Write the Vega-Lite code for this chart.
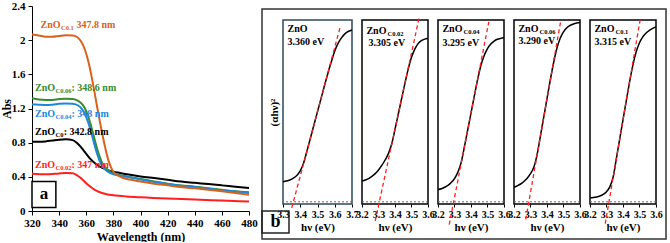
{
  "$schema": "https://vega.github.io/schema/vega-lite/v6.json",
  "background": "white",
  "padding": {"left": 0, "top": 0, "right": 0, "bottom": 0},
  "datasets": {
    "abs": [
      {"series": "ZnO C0", "wl": 320, "abs": 0.81}, {"series": "ZnO C0", "wl": 325, "abs": 0.81}, {"series": "ZnO C0", "wl": 330, "abs": 0.815}, {"series": "ZnO C0", "wl": 335, "abs": 0.825}, {"series": "ZnO C0", "wl": 340, "abs": 0.835}, {"series": "ZnO C0", "wl": 345, "abs": 0.84}, {"series": "ZnO C0", "wl": 350, "abs": 0.83}, {"series": "ZnO C0", "wl": 353, "abs": 0.8}, {"series": "ZnO C0", "wl": 356, "abs": 0.75}, {"series": "ZnO C0", "wl": 358, "abs": 0.71}, {"series": "ZnO C0", "wl": 360, "abs": 0.67}, {"series": "ZnO C0", "wl": 363, "abs": 0.61}, {"series": "ZnO C0", "wl": 366, "abs": 0.565}, {"series": "ZnO C0", "wl": 370, "abs": 0.52}, {"series": "ZnO C0", "wl": 375, "abs": 0.485}, {"series": "ZnO C0", "wl": 380, "abs": 0.46}, {"series": "ZnO C0", "wl": 385, "abs": 0.445}, {"series": "ZnO C0", "wl": 390, "abs": 0.43}, {"series": "ZnO C0", "wl": 400, "abs": 0.405}, {"series": "ZnO C0", "wl": 410, "abs": 0.385}, {"series": "ZnO C0", "wl": 420, "abs": 0.365}, {"series": "ZnO C0", "wl": 430, "abs": 0.345}, {"series": "ZnO C0", "wl": 440, "abs": 0.33}, {"series": "ZnO C0", "wl": 450, "abs": 0.315}, {"series": "ZnO C0", "wl": 460, "abs": 0.3}, {"series": "ZnO C0", "wl": 470, "abs": 0.285}, {"series": "ZnO C0", "wl": 480, "abs": 0.27},
      {"series": "ZnO C0.06", "wl": 320, "abs": 1.32}, {"series": "ZnO C0.06", "wl": 325, "abs": 1.305}, {"series": "ZnO C0.06", "wl": 330, "abs": 1.3}, {"series": "ZnO C0.06", "wl": 335, "abs": 1.3}, {"series": "ZnO C0.06", "wl": 340, "abs": 1.31}, {"series": "ZnO C0.06", "wl": 345, "abs": 1.315}, {"series": "ZnO C0.06", "wl": 350, "abs": 1.31}, {"series": "ZnO C0.06", "wl": 354, "abs": 1.29}, {"series": "ZnO C0.06", "wl": 357, "abs": 1.25}, {"series": "ZnO C0.06", "wl": 360, "abs": 1.17}, {"series": "ZnO C0.06", "wl": 362, "abs": 1.08}, {"series": "ZnO C0.06", "wl": 364, "abs": 0.97}, {"series": "ZnO C0.06", "wl": 366, "abs": 0.85}, {"series": "ZnO C0.06", "wl": 368, "abs": 0.73}, {"series": "ZnO C0.06", "wl": 370, "abs": 0.63}, {"series": "ZnO C0.06", "wl": 372, "abs": 0.555}, {"series": "ZnO C0.06", "wl": 375, "abs": 0.495}, {"series": "ZnO C0.06", "wl": 378, "abs": 0.455}, {"series": "ZnO C0.06", "wl": 380, "abs": 0.44}, {"series": "ZnO C0.06", "wl": 385, "abs": 0.42}, {"series": "ZnO C0.06", "wl": 390, "abs": 0.405}, {"series": "ZnO C0.06", "wl": 400, "abs": 0.375}, {"series": "ZnO C0.06", "wl": 410, "abs": 0.345}, {"series": "ZnO C0.06", "wl": 420, "abs": 0.32}, {"series": "ZnO C0.06", "wl": 430, "abs": 0.3}, {"series": "ZnO C0.06", "wl": 440, "abs": 0.285}, {"series": "ZnO C0.06", "wl": 450, "abs": 0.265}, {"series": "ZnO C0.06", "wl": 460, "abs": 0.248}, {"series": "ZnO C0.06", "wl": 470, "abs": 0.232}, {"series": "ZnO C0.06", "wl": 480, "abs": 0.22},
      {"series": "ZnO C0.04", "wl": 320, "abs": 1.25}, {"series": "ZnO C0.04", "wl": 325, "abs": 1.245}, {"series": "ZnO C0.04", "wl": 330, "abs": 1.24}, {"series": "ZnO C0.04", "wl": 335, "abs": 1.245}, {"series": "ZnO C0.04", "wl": 340, "abs": 1.255}, {"series": "ZnO C0.04", "wl": 345, "abs": 1.26}, {"series": "ZnO C0.04", "wl": 350, "abs": 1.255}, {"series": "ZnO C0.04", "wl": 354, "abs": 1.235}, {"series": "ZnO C0.04", "wl": 357, "abs": 1.19}, {"series": "ZnO C0.04", "wl": 360, "abs": 1.1}, {"series": "ZnO C0.04", "wl": 362, "abs": 1.01}, {"series": "ZnO C0.04", "wl": 364, "abs": 0.9}, {"series": "ZnO C0.04", "wl": 366, "abs": 0.78}, {"series": "ZnO C0.04", "wl": 368, "abs": 0.67}, {"series": "ZnO C0.04", "wl": 370, "abs": 0.58}, {"series": "ZnO C0.04", "wl": 372, "abs": 0.52}, {"series": "ZnO C0.04", "wl": 375, "abs": 0.47}, {"series": "ZnO C0.04", "wl": 378, "abs": 0.44}, {"series": "ZnO C0.04", "wl": 380, "abs": 0.43}, {"series": "ZnO C0.04", "wl": 385, "abs": 0.415}, {"series": "ZnO C0.04", "wl": 390, "abs": 0.4}, {"series": "ZnO C0.04", "wl": 400, "abs": 0.37}, {"series": "ZnO C0.04", "wl": 410, "abs": 0.34}, {"series": "ZnO C0.04", "wl": 420, "abs": 0.315}, {"series": "ZnO C0.04", "wl": 430, "abs": 0.295}, {"series": "ZnO C0.04", "wl": 440, "abs": 0.28}, {"series": "ZnO C0.04", "wl": 450, "abs": 0.26}, {"series": "ZnO C0.04", "wl": 460, "abs": 0.243}, {"series": "ZnO C0.04", "wl": 470, "abs": 0.227}, {"series": "ZnO C0.04", "wl": 480, "abs": 0.212},
      {"series": "ZnO C0.1", "wl": 320, "abs": 2.065}, {"series": "ZnO C0.1", "wl": 325, "abs": 2.055}, {"series": "ZnO C0.1", "wl": 330, "abs": 2.04}, {"series": "ZnO C0.1", "wl": 335, "abs": 2.04}, {"series": "ZnO C0.1", "wl": 340, "abs": 2.05}, {"series": "ZnO C0.1", "wl": 345, "abs": 2.058}, {"series": "ZnO C0.1", "wl": 350, "abs": 2.055}, {"series": "ZnO C0.1", "wl": 353, "abs": 2.04}, {"series": "ZnO C0.1", "wl": 356, "abs": 1.99}, {"series": "ZnO C0.1", "wl": 358, "abs": 1.93}, {"series": "ZnO C0.1", "wl": 360, "abs": 1.84}, {"series": "ZnO C0.1", "wl": 362, "abs": 1.72}, {"series": "ZnO C0.1", "wl": 364, "abs": 1.57}, {"series": "ZnO C0.1", "wl": 366, "abs": 1.4}, {"series": "ZnO C0.1", "wl": 368, "abs": 1.22}, {"series": "ZnO C0.1", "wl": 370, "abs": 1.05}, {"series": "ZnO C0.1", "wl": 372, "abs": 0.89}, {"series": "ZnO C0.1", "wl": 374, "abs": 0.74}, {"series": "ZnO C0.1", "wl": 376, "abs": 0.61}, {"series": "ZnO C0.1", "wl": 378, "abs": 0.52}, {"series": "ZnO C0.1", "wl": 380, "abs": 0.46}, {"series": "ZnO C0.1", "wl": 383, "abs": 0.42}, {"series": "ZnO C0.1", "wl": 386, "abs": 0.395}, {"series": "ZnO C0.1", "wl": 390, "abs": 0.375}, {"series": "ZnO C0.1", "wl": 395, "abs": 0.36}, {"series": "ZnO C0.1", "wl": 400, "abs": 0.345}, {"series": "ZnO C0.1", "wl": 410, "abs": 0.32}, {"series": "ZnO C0.1", "wl": 420, "abs": 0.3}, {"series": "ZnO C0.1", "wl": 430, "abs": 0.28}, {"series": "ZnO C0.1", "wl": 440, "abs": 0.265}, {"series": "ZnO C0.1", "wl": 450, "abs": 0.25}, {"series": "ZnO C0.1", "wl": 460, "abs": 0.232}, {"series": "ZnO C0.1", "wl": 470, "abs": 0.212}, {"series": "ZnO C0.1", "wl": 480, "abs": 0.19},
      {"series": "ZnO C0.02", "wl": 320, "abs": 0.437}, {"series": "ZnO C0.02", "wl": 330, "abs": 0.43}, {"series": "ZnO C0.02", "wl": 340, "abs": 0.44}, {"series": "ZnO C0.02", "wl": 345, "abs": 0.445}, {"series": "ZnO C0.02", "wl": 350, "abs": 0.443}, {"series": "ZnO C0.02", "wl": 353, "abs": 0.42}, {"series": "ZnO C0.02", "wl": 356, "abs": 0.385}, {"series": "ZnO C0.02", "wl": 358, "abs": 0.355}, {"series": "ZnO C0.02", "wl": 360, "abs": 0.325}, {"series": "ZnO C0.02", "wl": 363, "abs": 0.285}, {"series": "ZnO C0.02", "wl": 366, "abs": 0.25}, {"series": "ZnO C0.02", "wl": 370, "abs": 0.22}, {"series": "ZnO C0.02", "wl": 375, "abs": 0.197}, {"series": "ZnO C0.02", "wl": 380, "abs": 0.185}, {"series": "ZnO C0.02", "wl": 390, "abs": 0.17}, {"series": "ZnO C0.02", "wl": 400, "abs": 0.16}, {"series": "ZnO C0.02", "wl": 420, "abs": 0.145}, {"series": "ZnO C0.02", "wl": 440, "abs": 0.135}, {"series": "ZnO C0.02", "wl": 460, "abs": 0.122}, {"series": "ZnO C0.02", "wl": 480, "abs": 0.11}
    ],
    "absLabels": [
      {"series": "ZnO C0.1", "name": "ZnO", "sub": "C0.1", "rest": "347.8 nm"},
      {"series": "ZnO C0.06", "name": "ZnO", "sub": "C0.06", "rest": ": 348.6 nm"},
      {"series": "ZnO C0.04", "name": "ZnO", "sub": "C0.04", "rest": ": 348 nm"},
      {"series": "ZnO C0", "name": "ZnO", "sub": "C0", "rest": ": 342.8 nm"},
      {"series": "ZnO C0.02", "name": "ZnO", "sub": "C0.02", "rest": ": 347 nm"}
    ],
    "tauc": [
      {"sample": "ZnO", "hv": 3.30, "y": 0.110}, {"sample": "ZnO", "hv": 3.32, "y": 0.114}, {"sample": "ZnO", "hv": 3.34, "y": 0.120}, {"sample": "ZnO", "hv": 3.36, "y": 0.130}, {"sample": "ZnO", "hv": 3.38, "y": 0.145}, {"sample": "ZnO", "hv": 3.40, "y": 0.170}, {"sample": "ZnO", "hv": 3.42, "y": 0.215}, {"sample": "ZnO", "hv": 3.44, "y": 0.283}, {"sample": "ZnO", "hv": 3.46, "y": 0.354}, {"sample": "ZnO", "hv": 3.48, "y": 0.425}, {"sample": "ZnO", "hv": 3.50, "y": 0.496}, {"sample": "ZnO", "hv": 3.52, "y": 0.566}, {"sample": "ZnO", "hv": 3.54, "y": 0.637}, {"sample": "ZnO", "hv": 3.56, "y": 0.706}, {"sample": "ZnO", "hv": 3.58, "y": 0.770}, {"sample": "ZnO", "hv": 3.60, "y": 0.830}, {"sample": "ZnO", "hv": 3.62, "y": 0.873}, {"sample": "ZnO", "hv": 3.64, "y": 0.903}, {"sample": "ZnO", "hv": 3.66, "y": 0.925}, {"sample": "ZnO", "hv": 3.68, "y": 0.938}, {"sample": "ZnO", "hv": 3.70, "y": 0.945},
      {"sample": "ZnO C0.02", "hv": 3.20, "y": 0.115}, {"sample": "ZnO C0.02", "hv": 3.22, "y": 0.120}, {"sample": "ZnO C0.02", "hv": 3.24, "y": 0.128}, {"sample": "ZnO C0.02", "hv": 3.26, "y": 0.140}, {"sample": "ZnO C0.02", "hv": 3.28, "y": 0.155}, {"sample": "ZnO C0.02", "hv": 3.30, "y": 0.175}, {"sample": "ZnO C0.02", "hv": 3.32, "y": 0.200}, {"sample": "ZnO C0.02", "hv": 3.34, "y": 0.230}, {"sample": "ZnO C0.02", "hv": 3.36, "y": 0.265}, {"sample": "ZnO C0.02", "hv": 3.38, "y": 0.318}, {"sample": "ZnO C0.02", "hv": 3.40, "y": 0.399}, {"sample": "ZnO C0.02", "hv": 3.42, "y": 0.483}, {"sample": "ZnO C0.02", "hv": 3.44, "y": 0.567}, {"sample": "ZnO C0.02", "hv": 3.46, "y": 0.651}, {"sample": "ZnO C0.02", "hv": 3.48, "y": 0.730}, {"sample": "ZnO C0.02", "hv": 3.50, "y": 0.795}, {"sample": "ZnO C0.02", "hv": 3.52, "y": 0.840}, {"sample": "ZnO C0.02", "hv": 3.54, "y": 0.870}, {"sample": "ZnO C0.02", "hv": 3.56, "y": 0.886}, {"sample": "ZnO C0.02", "hv": 3.58, "y": 0.895}, {"sample": "ZnO C0.02", "hv": 3.60, "y": 0.900},
      {"sample": "ZnO C0.04", "hv": 3.20, "y": 0.068}, {"sample": "ZnO C0.04", "hv": 3.22, "y": 0.072}, {"sample": "ZnO C0.04", "hv": 3.24, "y": 0.080}, {"sample": "ZnO C0.04", "hv": 3.26, "y": 0.090}, {"sample": "ZnO C0.04", "hv": 3.28, "y": 0.106}, {"sample": "ZnO C0.04", "hv": 3.30, "y": 0.128}, {"sample": "ZnO C0.04", "hv": 3.32, "y": 0.162}, {"sample": "ZnO C0.04", "hv": 3.34, "y": 0.215}, {"sample": "ZnO C0.04", "hv": 3.36, "y": 0.302}, {"sample": "ZnO C0.04", "hv": 3.38, "y": 0.395}, {"sample": "ZnO C0.04", "hv": 3.40, "y": 0.488}, {"sample": "ZnO C0.04", "hv": 3.42, "y": 0.581}, {"sample": "ZnO C0.04", "hv": 3.44, "y": 0.672}, {"sample": "ZnO C0.04", "hv": 3.46, "y": 0.750}, {"sample": "ZnO C0.04", "hv": 3.48, "y": 0.805}, {"sample": "ZnO C0.04", "hv": 3.50, "y": 0.843}, {"sample": "ZnO C0.04", "hv": 3.52, "y": 0.868}, {"sample": "ZnO C0.04", "hv": 3.54, "y": 0.884}, {"sample": "ZnO C0.04", "hv": 3.56, "y": 0.894}, {"sample": "ZnO C0.04", "hv": 3.58, "y": 0.899}, {"sample": "ZnO C0.04", "hv": 3.60, "y": 0.902},
      {"sample": "ZnO C0.06", "hv": 3.20, "y": 0.080}, {"sample": "ZnO C0.06", "hv": 3.22, "y": 0.088}, {"sample": "ZnO C0.06", "hv": 3.24, "y": 0.098}, {"sample": "ZnO C0.06", "hv": 3.26, "y": 0.112}, {"sample": "ZnO C0.06", "hv": 3.28, "y": 0.130}, {"sample": "ZnO C0.06", "hv": 3.30, "y": 0.155}, {"sample": "ZnO C0.06", "hv": 3.32, "y": 0.190}, {"sample": "ZnO C0.06", "hv": 3.34, "y": 0.260}, {"sample": "ZnO C0.06", "hv": 3.36, "y": 0.361}, {"sample": "ZnO C0.06", "hv": 3.38, "y": 0.464}, {"sample": "ZnO C0.06", "hv": 3.40, "y": 0.567}, {"sample": "ZnO C0.06", "hv": 3.42, "y": 0.670}, {"sample": "ZnO C0.06", "hv": 3.44, "y": 0.765}, {"sample": "ZnO C0.06", "hv": 3.46, "y": 0.845}, {"sample": "ZnO C0.06", "hv": 3.48, "y": 0.900}, {"sample": "ZnO C0.06", "hv": 3.50, "y": 0.935}, {"sample": "ZnO C0.06", "hv": 3.52, "y": 0.957}, {"sample": "ZnO C0.06", "hv": 3.54, "y": 0.970}, {"sample": "ZnO C0.06", "hv": 3.56, "y": 0.978}, {"sample": "ZnO C0.06", "hv": 3.58, "y": 0.983}, {"sample": "ZnO C0.06", "hv": 3.60, "y": 0.986},
      {"sample": "ZnO C0.1", "hv": 3.20, "y": 0.022}, {"sample": "ZnO C0.1", "hv": 3.22, "y": 0.024}, {"sample": "ZnO C0.1", "hv": 3.24, "y": 0.027}, {"sample": "ZnO C0.1", "hv": 3.26, "y": 0.032}, {"sample": "ZnO C0.1", "hv": 3.28, "y": 0.041}, {"sample": "ZnO C0.1", "hv": 3.30, "y": 0.056}, {"sample": "ZnO C0.1", "hv": 3.32, "y": 0.082}, {"sample": "ZnO C0.1", "hv": 3.34, "y": 0.135}, {"sample": "ZnO C0.1", "hv": 3.36, "y": 0.239}, {"sample": "ZnO C0.1", "hv": 3.38, "y": 0.345}, {"sample": "ZnO C0.1", "hv": 3.40, "y": 0.451}, {"sample": "ZnO C0.1", "hv": 3.42, "y": 0.557}, {"sample": "ZnO C0.1", "hv": 3.44, "y": 0.660}, {"sample": "ZnO C0.1", "hv": 3.46, "y": 0.752}, {"sample": "ZnO C0.1", "hv": 3.48, "y": 0.825}, {"sample": "ZnO C0.1", "hv": 3.50, "y": 0.875}, {"sample": "ZnO C0.1", "hv": 3.52, "y": 0.907}, {"sample": "ZnO C0.1", "hv": 3.54, "y": 0.928}, {"sample": "ZnO C0.1", "hv": 3.56, "y": 0.943}, {"sample": "ZnO C0.1", "hv": 3.58, "y": 0.954}, {"sample": "ZnO C0.1", "hv": 3.60, "y": 0.962}
    ],
    "tangent": [
      {"sample": "ZnO", "hv": 3.3507, "y": -0.033}, {"sample": "ZnO", "hv": 3.360, "y": 0}, {"sample": "ZnO", "hv": 3.6303, "y": 0.957},
      {"sample": "ZnO C0.02", "hv": 3.280, "y": -0.105}, {"sample": "ZnO C0.02", "hv": 3.305, "y": 0}, {"sample": "ZnO C0.02", "hv": 3.5455, "y": 1.01},
      {"sample": "ZnO C0.04", "hv": 3.2681, "y": -0.125}, {"sample": "ZnO C0.04", "hv": 3.295, "y": 0}, {"sample": "ZnO C0.04", "hv": 3.5079, "y": 0.99},
      {"sample": "ZnO C0.06", "hv": 3.2712, "y": -0.097}, {"sample": "ZnO C0.06", "hv": 3.290, "y": 0}, {"sample": "ZnO C0.06", "hv": 3.4842, "y": 1.0},
      {"sample": "ZnO C0.1", "hv": 3.2924, "y": -0.12}, {"sample": "ZnO C0.1", "hv": 3.315, "y": 0}, {"sample": "ZnO C0.1", "hv": 3.5037, "y": 1.0}
    ]
  },
  "spacing": 2,
  "hconcat": [
    {
      "width": 217,
      "height": 205,
      "layer": [
        {
          "data": {"name": "abs"},
          "mark": {"type": "line", "interpolate": "monotone", "strokeWidth": 2},
          "encoding": {
            "x": {"field": "wl", "type": "quantitative", "scale": {"domain": [320, 480], "nice": false, "zero": false},
                  "axis": {"values": [320, 340, 360, 380, 400, 420, 440, 460, 480], "tickCount": 20, "title": "Wavelength (nm)", "labelFlush": false, "labelOverlap": false, "tickSize": 4, "labelPadding": 2, "titlePadding": 3, "titleFontSize": 12}},
            "y": {"field": "abs", "type": "quantitative", "scale": {"domain": [0, 2.4], "nice": false},
                  "axis": {"values": [0, 0.4, 0.8, 1.2, 1.6, 2, 2.4], "tickCount": 20, "format": "~g", "labelOverlap": false, "title": "Abs", "tickSize": 4, "labelPadding": 3, "titlePadding": -2, "titleFontSize": 12}},
            "color": {"field": "series", "type": "nominal", "legend": null,
                      "scale": {"domain": ["ZnO C0", "ZnO C0.06", "ZnO C0.04", "ZnO C0.1", "ZnO C0.02"], "range": ["#000000", "#3a8a2e", "#1e88d8", "#d8621c", "#ff1f1f"]}}
          }
        },
        {"data": {"values": [{"panel": "a"}]},
         "mark": {"type": "rect", "fill": "white", "stroke": "#000", "strokeWidth": 1.5},
         "encoding": {"x": {"datum": 320}, "x2": {"datum": 337.6}, "y": {"datum": 0.04}, "y2": {"datum": 0.345}}},
        {"data": {"values": [{"panel": "a"}]},
         "mark": {"type": "text", "fontSize": 17, "align": "center", "baseline": "middle", "font": "Liberation Serif", "fontWeight": "bold", "color": "#000"},
         "encoding": {"text": {"field": "panel"}, "x": {"datum": 328.8}, "y": {"datum": 0.2}}},
        {"data": {"name": "absLabels"}, "transform": [{"filter": "datum.series === 'ZnO C0.1'"}],
         "mark": {"type": "text", "align": "left", "baseline": "middle", "fontSize": 10, "font": "Liberation Serif", "fontWeight": "bold", "color": "#d8621c"},
         "encoding": {"text": {"field": "name"}, "x": {"datum": 326.3}, "y": {"datum": 2.175}}},
        {"data": {"name": "absLabels"}, "transform": [{"filter": "datum.series === 'ZnO C0.1'"}],
         "mark": {"type": "text", "align": "left", "baseline": "middle", "fontSize": 6.5, "dx": 20.5, "dy": 3, "font": "Liberation Serif", "fontWeight": "bold", "color": "#d8621c"},
         "encoding": {"text": {"field": "sub"}, "x": {"datum": 326.3}, "y": {"datum": 2.175}}},
        {"data": {"name": "absLabels"}, "transform": [{"filter": "datum.series === 'ZnO C0.1'"}],
         "mark": {"type": "text", "align": "left", "baseline": "middle", "fontSize": 10, "dx": 36, "font": "Liberation Serif", "fontWeight": "bold", "color": "#d8621c"},
         "encoding": {"text": {"field": "rest"}, "x": {"datum": 326.3}, "y": {"datum": 2.175}}},
        {"data": {"name": "absLabels"}, "transform": [{"filter": "datum.series === 'ZnO C0.06'"}],
         "mark": {"type": "text", "align": "left", "baseline": "middle", "fontSize": 10, "font": "Liberation Serif", "fontWeight": "bold", "color": "#3a8a2e"},
         "encoding": {"text": {"field": "name"}, "x": {"datum": 322.2}, "y": {"datum": 1.437}}},
        {"data": {"name": "absLabels"}, "transform": [{"filter": "datum.series === 'ZnO C0.06'"}],
         "mark": {"type": "text", "align": "left", "baseline": "middle", "fontSize": 6.5, "dx": 20.5, "dy": 3, "font": "Liberation Serif", "fontWeight": "bold", "color": "#3a8a2e"},
         "encoding": {"text": {"field": "sub"}, "x": {"datum": 322.2}, "y": {"datum": 1.437}}},
        {"data": {"name": "absLabels"}, "transform": [{"filter": "datum.series === 'ZnO C0.06'"}],
         "mark": {"type": "text", "align": "left", "baseline": "middle", "fontSize": 10, "dx": 36.5, "font": "Liberation Serif", "fontWeight": "bold", "color": "#3a8a2e"},
         "encoding": {"text": {"field": "rest"}, "x": {"datum": 322.2}, "y": {"datum": 1.437}}},
        {"data": {"name": "absLabels"}, "transform": [{"filter": "datum.series === 'ZnO C0.04'"}],
         "mark": {"type": "text", "align": "left", "baseline": "middle", "fontSize": 10, "font": "Liberation Serif", "fontWeight": "bold", "color": "#1e88d8"},
         "encoding": {"text": {"field": "name"}, "x": {"datum": 322.2}, "y": {"datum": 1.137}}},
        {"data": {"name": "absLabels"}, "transform": [{"filter": "datum.series === 'ZnO C0.04'"}],
         "mark": {"type": "text", "align": "left", "baseline": "middle", "fontSize": 6.5, "dx": 20.5, "dy": 3, "font": "Liberation Serif", "fontWeight": "bold", "color": "#1e88d8"},
         "encoding": {"text": {"field": "sub"}, "x": {"datum": 322.2}, "y": {"datum": 1.137}}},
        {"data": {"name": "absLabels"}, "transform": [{"filter": "datum.series === 'ZnO C0.04'"}],
         "mark": {"type": "text", "align": "left", "baseline": "middle", "fontSize": 10, "dx": 36.5, "font": "Liberation Serif", "fontWeight": "bold", "color": "#1e88d8"},
         "encoding": {"text": {"field": "rest"}, "x": {"datum": 322.2}, "y": {"datum": 1.137}}},
        {"data": {"name": "absLabels"}, "transform": [{"filter": "datum.series === 'ZnO C0'"}],
         "mark": {"type": "text", "align": "left", "baseline": "middle", "fontSize": 10, "font": "Liberation Serif", "fontWeight": "bold", "color": "#000000"},
         "encoding": {"text": {"field": "name"}, "x": {"datum": 322.2}, "y": {"datum": 0.924}}},
        {"data": {"name": "absLabels"}, "transform": [{"filter": "datum.series === 'ZnO C0'"}],
         "mark": {"type": "text", "align": "left", "baseline": "middle", "fontSize": 6.5, "dx": 20.5, "dy": 3, "font": "Liberation Serif", "fontWeight": "bold", "color": "#000000"},
         "encoding": {"text": {"field": "sub"}, "x": {"datum": 322.2}, "y": {"datum": 0.924}}},
        {"data": {"name": "absLabels"}, "transform": [{"filter": "datum.series === 'ZnO C0'"}],
         "mark": {"type": "text", "align": "left", "baseline": "middle", "fontSize": 10, "dx": 28.8, "font": "Liberation Serif", "fontWeight": "bold", "color": "#000000"},
         "encoding": {"text": {"field": "rest"}, "x": {"datum": 322.2}, "y": {"datum": 0.924}}},
        {"data": {"name": "absLabels"}, "transform": [{"filter": "datum.series === 'ZnO C0.02'"}],
         "mark": {"type": "text", "align": "left", "baseline": "middle", "fontSize": 10, "font": "Liberation Serif", "fontWeight": "bold", "color": "#ff1f1f"},
         "encoding": {"text": {"field": "name"}, "x": {"datum": 322.2}, "y": {"datum": 0.542}}},
        {"data": {"name": "absLabels"}, "transform": [{"filter": "datum.series === 'ZnO C0.02'"}],
         "mark": {"type": "text", "align": "left", "baseline": "middle", "fontSize": 6.5, "dx": 20.5, "dy": 3, "font": "Liberation Serif", "fontWeight": "bold", "color": "#ff1f1f"},
         "encoding": {"text": {"field": "sub"}, "x": {"datum": 322.2}, "y": {"datum": 0.542}}},
        {"data": {"name": "absLabels"}, "transform": [{"filter": "datum.series === 'ZnO C0.02'"}],
         "mark": {"type": "text", "align": "left", "baseline": "middle", "fontSize": 10, "dx": 36.5, "font": "Liberation Serif", "fontWeight": "bold", "color": "#ff1f1f"},
         "encoding": {"text": {"field": "rest"}, "x": {"datum": 322.2}, "y": {"datum": 0.542}}}
      ]
    },
    {
      "spacing": 0,
      "vconcat": [
        {"width": 1, "height": 1, "mark": {"type": "rule", "strokeOpacity": 0}, "encoding": {}},
        {
          "spacing": 10,
          "bounds": "flush",
          "hconcat": [
            {
              "width": 69, "height": 184,
              "view": {"stroke": "#2e4a5c", "strokeWidth": 1.5},
              "layer": [
                {"data": {"name": "tauc"}, "transform": [{"filter": "datum.sample === 'ZnO'"}],
                 "mark": {"type": "line", "color": "#000", "strokeWidth": 1.5, "interpolate": "monotone"},
                 "encoding": {
                   "x": {"field": "hv", "type": "quantitative", "scale": {"domain": [3.3, 3.7], "nice": false, "zero": false},
                         "axis": {"values": [3.3, 3.4, 3.5, 3.6, 3.7], "tickCount": 20, "format": ".1f", "title": "hν (eV)", "labelFontSize": 10, "titleFontSize": 11, "domain": false, "tickSize": 3, "labelPadding": 2, "labelFlush": false, "labelOverlap": false, "titlePadding": 2}},
                   "y": {"field": "y", "type": "quantitative", "scale": {"domain": [-0.012, 1], "nice": false, "zero": false},
                         "axis": {"title": "(αhν)²", "labels": false, "ticks": false, "domain": false, "titleFontSize": 11, "titlePadding": 4}}
                 }},
                {"data": {"name": "tangent"}, "transform": [{"filter": "datum.sample === 'ZnO'"}],
                 "mark": {"type": "line", "color": "#ff1f1f", "strokeDash": [4, 3], "strokeWidth": 1.3},
                 "encoding": {"x": {"field": "hv", "type": "quantitative"}, "y": {"field": "y", "type": "quantitative"}}},
                {"data": {"values": [{"panel": "b"}]},
                 "mark": {"type": "rule", "color": "#666", "strokeDash": [2, 2], "strokeWidth": 1},
                 "encoding": {"y": {"datum": 0}}},
                {"data": {"values": [{"panel": "b"}]},
                 "mark": {"type": "rect", "fill": null, "stroke": "#333", "strokeWidth": 1.5},
                 "encoding": {"x": {"datum": 3.1783}, "x2": {"datum": 5.5203}, "y": {"datum": -0.2045}, "y2": {"datum": 1.0605}}},
                {"data": {"values": [{"panel": "b"}]},
                 "mark": {"type": "rect", "fill": null, "stroke": "#222", "strokeWidth": 1.5},
                 "encoding": {"x": {"datum": 3.1783}, "x2": {"datum": 3.3348}, "y": {"datum": -0.1715}, "y2": {"datum": -0.0505}}},
                {"data": {"values": [{"panel": "b"}]},
                 "mark": {"type": "text", "fontSize": 18, "align": "center", "baseline": "middle", "font": "Liberation Serif", "fontWeight": "bold", "color": "#000"},
                 "encoding": {"text": {"field": "panel"}, "x": {"datum": 3.2565}, "y": {"datum": -0.111}}},
                {"data": {"values": [{"name": "ZnO", "gap": "3.360 eV"}]},
                 "mark": {"type": "text", "align": "left", "baseline": "middle", "fontSize": 10, "font": "Liberation Serif", "fontWeight": "bold", "color": "#000"},
                 "encoding": {"text": {"field": "name"}, "x": {"datum": 3.326}, "y": {"datum": 0.95}}},
                {"data": {"values": [{"name": "ZnO", "gap": "3.360 eV"}]},
                 "mark": {"type": "text", "align": "left", "baseline": "middle", "fontSize": 10, "font": "Liberation Serif", "fontWeight": "bold", "color": "#000"},
                 "encoding": {"text": {"field": "gap"}, "x": {"datum": 3.326}, "y": {"datum": 0.88}}}
              ]
            },
            {
              "width": 66, "height": 184,
              "view": {"stroke": "#000", "strokeWidth": 1.5},
              "layer": [
                {"data": {"name": "tauc"}, "transform": [{"filter": "datum.sample === 'ZnO C0.02'"}],
                 "mark": {"type": "line", "color": "#000", "strokeWidth": 1.5, "interpolate": "monotone"},
                 "encoding": {
                   "x": {"field": "hv", "type": "quantitative", "scale": {"domain": [3.2, 3.6], "nice": false, "zero": false},
                         "axis": {"values": [3.2, 3.3, 3.4, 3.5, 3.6], "tickCount": 20, "format": ".1f", "title": "hν (eV)", "labelFontSize": 10, "titleFontSize": 11, "domain": false, "tickSize": 3, "labelPadding": 2, "labelFlush": false, "labelOverlap": false, "titlePadding": 2}},
                   "y": {"field": "y", "type": "quantitative", "scale": {"domain": [-0.012, 1], "nice": false, "zero": false}, "axis": null}
                 }},
                {"data": {"name": "tangent"}, "transform": [{"filter": "datum.sample === 'ZnO C0.02'"}],
                 "mark": {"type": "line", "color": "#ff1f1f", "strokeDash": [4, 3], "strokeWidth": 1.3},
                 "encoding": {"x": {"field": "hv", "type": "quantitative"}, "y": {"field": "y", "type": "quantitative", "axis": null}}},
                {"data": {"values": [{"panel": "b"}]},
                 "mark": {"type": "rule", "color": "#666", "strokeDash": [2, 2], "strokeWidth": 1},
                 "encoding": {"y": {"datum": 0, "axis": null}}},
                {"data": {"values": [{"name": "ZnO", "sub": "C0.02", "gap": "3.305 eV"}]},
                 "mark": {"type": "text", "align": "left", "baseline": "middle", "fontSize": 10, "font": "Liberation Serif", "fontWeight": "bold", "color": "#000"},
                 "encoding": {"text": {"field": "name"}, "x": {"datum": 3.227}, "y": {"datum": 0.94, "axis": null}}},
                {"data": {"values": [{"name": "ZnO", "sub": "C0.02", "gap": "3.305 eV"}]},
                 "mark": {"type": "text", "align": "left", "baseline": "middle", "fontSize": 6.5, "dx": 21, "dy": 3, "font": "Liberation Serif", "fontWeight": "bold", "color": "#000"},
                 "encoding": {"text": {"field": "sub"}, "x": {"datum": 3.227}, "y": {"datum": 0.94, "axis": null}}},
                {"data": {"values": [{"name": "ZnO", "sub": "C0.02", "gap": "3.305 eV"}]},
                 "mark": {"type": "text", "align": "left", "baseline": "middle", "fontSize": 10, "font": "Liberation Serif", "fontWeight": "bold", "color": "#000"},
                 "encoding": {"text": {"field": "gap"}, "x": {"datum": 3.24}, "y": {"datum": 0.875, "axis": null}}}
              ]
            },
            {
              "width": 66, "height": 184,
              "view": {"stroke": "#000", "strokeWidth": 1.5},
              "layer": [
                {"data": {"name": "tauc"}, "transform": [{"filter": "datum.sample === 'ZnO C0.04'"}],
                 "mark": {"type": "line", "color": "#000", "strokeWidth": 1.5, "interpolate": "monotone"},
                 "encoding": {
                   "x": {"field": "hv", "type": "quantitative", "scale": {"domain": [3.2, 3.6], "nice": false, "zero": false},
                         "axis": {"values": [3.2, 3.3, 3.4, 3.5, 3.6], "tickCount": 20, "format": ".1f", "title": "hν (eV)", "labelFontSize": 10, "titleFontSize": 11, "domain": false, "tickSize": 3, "labelPadding": 2, "labelFlush": false, "labelOverlap": false, "titlePadding": 2}},
                   "y": {"field": "y", "type": "quantitative", "scale": {"domain": [-0.012, 1], "nice": false, "zero": false}, "axis": null}
                 }},
                {"data": {"name": "tangent"}, "transform": [{"filter": "datum.sample === 'ZnO C0.04'"}],
                 "mark": {"type": "line", "color": "#ff1f1f", "strokeDash": [4, 3], "strokeWidth": 1.3},
                 "encoding": {"x": {"field": "hv", "type": "quantitative"}, "y": {"field": "y", "type": "quantitative", "axis": null}}},
                {"data": {"values": [{"panel": "b"}]},
                 "mark": {"type": "rule", "color": "#666", "strokeDash": [2, 2], "strokeWidth": 1},
                 "encoding": {"y": {"datum": 0, "axis": null}}},
                {"data": {"values": [{"name": "ZnO", "sub": "C0.04", "gap": "3.295 eV"}]},
                 "mark": {"type": "text", "align": "left", "baseline": "middle", "fontSize": 10, "font": "Liberation Serif", "fontWeight": "bold", "color": "#000"},
                 "encoding": {"text": {"field": "name"}, "x": {"datum": 3.227}, "y": {"datum": 0.948, "axis": null}}},
                {"data": {"values": [{"name": "ZnO", "sub": "C0.04", "gap": "3.295 eV"}]},
                 "mark": {"type": "text", "align": "left", "baseline": "middle", "fontSize": 6.5, "dx": 21, "dy": 3, "font": "Liberation Serif", "fontWeight": "bold", "color": "#000"},
                 "encoding": {"text": {"field": "sub"}, "x": {"datum": 3.227}, "y": {"datum": 0.948, "axis": null}}},
                {"data": {"values": [{"name": "ZnO", "sub": "C0.04", "gap": "3.295 eV"}]},
                 "mark": {"type": "text", "align": "left", "baseline": "middle", "fontSize": 10, "font": "Liberation Serif", "fontWeight": "bold", "color": "#000"},
                 "encoding": {"text": {"field": "gap"}, "x": {"datum": 3.227}, "y": {"datum": 0.876, "axis": null}}}
              ]
            },
            {
              "width": 66, "height": 184,
              "view": {"stroke": "#000", "strokeWidth": 1.5},
              "layer": [
                {"data": {"name": "tauc"}, "transform": [{"filter": "datum.sample === 'ZnO C0.06'"}],
                 "mark": {"type": "line", "color": "#000", "strokeWidth": 1.5, "interpolate": "monotone"},
                 "encoding": {
                   "x": {"field": "hv", "type": "quantitative", "scale": {"domain": [3.2, 3.6], "nice": false, "zero": false},
                         "axis": {"values": [3.2, 3.3, 3.4, 3.5, 3.6], "tickCount": 20, "format": ".1f", "title": "hν (eV)", "labelFontSize": 10, "titleFontSize": 11, "domain": false, "tickSize": 3, "labelPadding": 2, "labelFlush": false, "labelOverlap": false, "titlePadding": 2}},
                   "y": {"field": "y", "type": "quantitative", "scale": {"domain": [-0.012, 1], "nice": false, "zero": false}, "axis": null}
                 }},
                {"data": {"name": "tangent"}, "transform": [{"filter": "datum.sample === 'ZnO C0.06'"}],
                 "mark": {"type": "line", "color": "#ff1f1f", "strokeDash": [4, 3], "strokeWidth": 1.3},
                 "encoding": {"x": {"field": "hv", "type": "quantitative"}, "y": {"field": "y", "type": "quantitative", "axis": null}}},
                {"data": {"values": [{"panel": "b"}]},
                 "mark": {"type": "rule", "color": "#666", "strokeDash": [2, 2], "strokeWidth": 1},
                 "encoding": {"y": {"datum": 0, "axis": null}}},
                {"data": {"values": [{"name": "ZnO", "sub": "C0.06", "gap": "3.290 eV"}]},
                 "mark": {"type": "text", "align": "left", "baseline": "middle", "fontSize": 10, "font": "Liberation Serif", "fontWeight": "bold", "color": "#000"},
                 "encoding": {"text": {"field": "name"}, "x": {"datum": 3.227}, "y": {"datum": 0.95, "axis": null}}},
                {"data": {"values": [{"name": "ZnO", "sub": "C0.06", "gap": "3.290 eV"}]},
                 "mark": {"type": "text", "align": "left", "baseline": "middle", "fontSize": 6.5, "dx": 21, "dy": 3, "font": "Liberation Serif", "fontWeight": "bold", "color": "#000"},
                 "encoding": {"text": {"field": "sub"}, "x": {"datum": 3.227}, "y": {"datum": 0.95, "axis": null}}},
                {"data": {"values": [{"name": "ZnO", "sub": "C0.06", "gap": "3.290 eV"}]},
                 "mark": {"type": "text", "align": "left", "baseline": "middle", "fontSize": 10, "font": "Liberation Serif", "fontWeight": "bold", "color": "#000"},
                 "encoding": {"text": {"field": "gap"}, "x": {"datum": 3.227}, "y": {"datum": 0.885, "axis": null}}}
              ]
            },
            {
              "width": 66, "height": 184,
              "view": {"stroke": "#000", "strokeWidth": 1.5},
              "layer": [
                {"data": {"name": "tauc"}, "transform": [{"filter": "datum.sample === 'ZnO C0.1'"}],
                 "mark": {"type": "line", "color": "#000", "strokeWidth": 1.5, "interpolate": "monotone"},
                 "encoding": {
                   "x": {"field": "hv", "type": "quantitative", "scale": {"domain": [3.2, 3.6], "nice": false, "zero": false},
                         "axis": {"values": [3.2, 3.3, 3.4, 3.5, 3.6], "tickCount": 20, "format": ".1f", "title": "hν (eV)", "labelFontSize": 10, "titleFontSize": 11, "domain": false, "tickSize": 3, "labelPadding": 2, "labelFlush": false, "labelOverlap": false, "titlePadding": 2}},
                   "y": {"field": "y", "type": "quantitative", "scale": {"domain": [-0.012, 1], "nice": false, "zero": false}, "axis": null}
                 }},
                {"data": {"name": "tangent"}, "transform": [{"filter": "datum.sample === 'ZnO C0.1'"}],
                 "mark": {"type": "line", "color": "#ff1f1f", "strokeDash": [4, 3], "strokeWidth": 1.3},
                 "encoding": {"x": {"field": "hv", "type": "quantitative"}, "y": {"field": "y", "type": "quantitative", "axis": null}}},
                {"data": {"values": [{"panel": "b"}]},
                 "mark": {"type": "rule", "color": "#666", "strokeDash": [2, 2], "strokeWidth": 1},
                 "encoding": {"y": {"datum": 0, "axis": null}}},
                {"data": {"values": [{"name": "ZnO", "sub": "C0.1", "gap": "3.315 eV"}]},
                 "mark": {"type": "text", "align": "left", "baseline": "middle", "fontSize": 10, "font": "Liberation Serif", "fontWeight": "bold", "color": "#000"},
                 "encoding": {"text": {"field": "name"}, "x": {"datum": 3.227}, "y": {"datum": 0.949, "axis": null}}},
                {"data": {"values": [{"name": "ZnO", "sub": "C0.1", "gap": "3.315 eV"}]},
                 "mark": {"type": "text", "align": "left", "baseline": "middle", "fontSize": 6.5, "dx": 21, "dy": 3, "font": "Liberation Serif", "fontWeight": "bold", "color": "#000"},
                 "encoding": {"text": {"field": "sub"}, "x": {"datum": 3.227}, "y": {"datum": 0.949, "axis": null}}},
                {"data": {"values": [{"name": "ZnO", "sub": "C0.1", "gap": "3.315 eV"}]},
                 "mark": {"type": "text", "align": "left", "baseline": "middle", "fontSize": 10, "font": "Liberation Serif", "fontWeight": "bold", "color": "#000"},
                 "encoding": {"text": {"field": "gap"}, "x": {"datum": 3.227}, "y": {"datum": 0.88, "axis": null}}}
              ]
            }
          ]
        }
      ]
    }
  ],
  "config": {
    "view": {"stroke": null},
    "axis": {"labelFont": "Liberation Serif", "titleFont": "Liberation Serif", "labelFontWeight": "bold", "titleFontWeight": "bold", "labelColor": "#000", "titleColor": "#000", "domainColor": "#000", "tickColor": "#000", "grid": false, "labelFontSize": 11, "labelOverlap": false}
  }
}
